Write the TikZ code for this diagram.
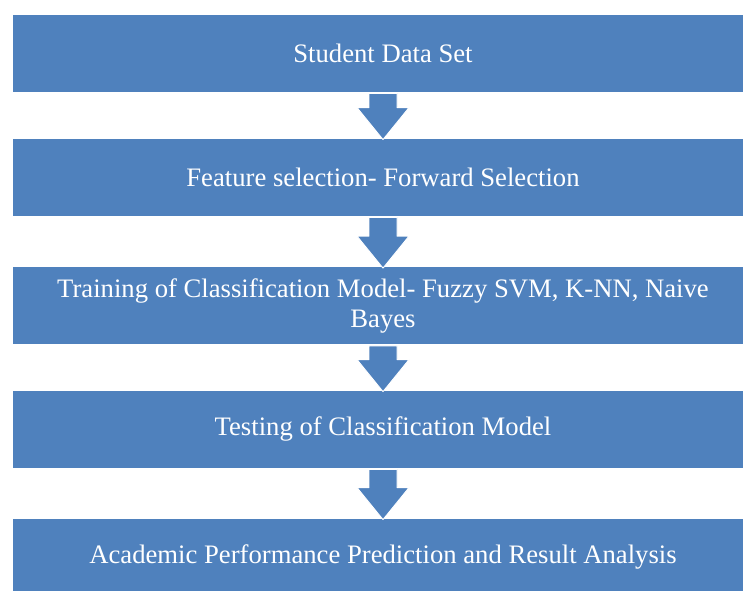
\documentclass[tikz,border=0pt]{standalone}
\usepackage{fontspec}
\setmainfont{Liberation Serif}
\usepackage{tikz}
\usetikzlibrary{calc}
\definecolor{boxblue}{RGB}{79,129,189}

\tikzset{
  stagebox/.style={rectangle, fill=boxblue, draw=white, line width=0.6pt,
    minimum width=556.5pt, minimum height=58.5pt, inner sep=0pt,
    text=white, align=center, font=\fontsize{20}{22.5}\selectfont},
  blockarrow/.style={fill=boxblue, draw=white, line width=0.7pt, line join=round}
}

\begin{document}
\begin{tikzpicture}[x=0.75pt, y=0.75pt]
  \useasboundingbox (0, 0) rectangle (743, -590);
  \clip (0, 0) rectangle (743, -590);

% stages
  \draw (383, -53) node[stagebox] (data) {Student Data Set};
  \draw ($(data) - (0, 124)$) node[stagebox] (feat) {Feature selection- Forward Selection};
  \draw ($(feat) - (0, 128.5)$) node[stagebox] (train) {Training of Classification Model- Fuzzy SVM, K-NN, Naive\\Bayes};
  \draw ($(train) - (0, 123.5)$) node[stagebox] (test) {Testing of Classification Model};
  \draw ($(test) - (0, 128)$) node[stagebox] (pred) {Academic Performance Prediction and Result Analysis};

% block arrows
  \foreach \a/\b in {data/feat, feat/train, train/test, test/pred}{
    \draw[blockarrow] ($(\a.south) + (-14, -1)$) -- ($(\b.north) + (-14, 30)$)
      -- ($(\b.north) + (-26, 30)$) -- ($(\b.north) + (0, -2)$)
      -- ($(\b.north) + (26, 30)$) -- ($(\b.north) + (14, 30)$)
      -- ($(\a.south) + (14, -1)$) -- cycle;
  }
\end{tikzpicture}
\end{document}
